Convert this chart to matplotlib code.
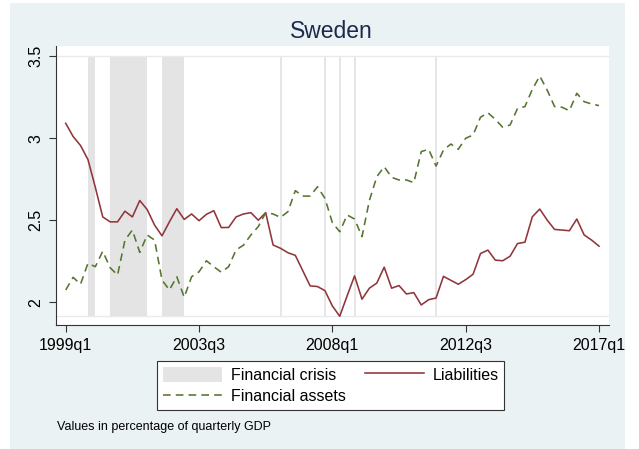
import matplotlib
matplotlib.use("Agg")
import matplotlib.pyplot as plt
from matplotlib.patches import Rectangle, Patch
from matplotlib.lines import Line2D
import numpy as np

plt.rcParams['font.family'] = ['Liberation Sans', 'DejaVu Sans']

# ---- data (quarter index 0 = 1999q1) ----
tick_pos = [0, 18, 36, 54, 72]
tick_labels = ["1999q1", "2003q3", "2008q1", "2012q3", "2017q1"]
ytick_vals = [2, 2.5, 3, 3.5]

liabilities = [3.09, 3.01, 2.955, 2.87, 2.70, 2.52, 2.49, 2.49, 2.555, 2.52,
               2.62, 2.565, 2.47, 2.405, 2.49, 2.57, 2.505, 2.538, 2.497, 2.536,
               2.558, 2.455, 2.456, 2.52, 2.538, 2.546, 2.50, 2.546, 2.349, 2.329,
               2.302, 2.286, 2.193, 2.10, 2.096, 2.071, 1.978, 1.915, 2.04, 2.161,
               2.019, 2.086, 2.117, 2.214, 2.086, 2.102, 2.051, 2.059, 1.984, 2.016,
               2.026, 2.158, 2.134, 2.11, 2.138, 2.171, 2.297, 2.318, 2.257, 2.253,
               2.281, 2.358, 2.366, 2.521, 2.568, 2.501, 2.444, 2.44, 2.436, 2.507,
               2.41, 2.379, 2.342]

assets = [2.075, 2.152, 2.11, 2.237, 2.217, 2.311, 2.211, 2.166, 2.379, 2.44,
          2.304, 2.41, 2.379, 2.136, 2.075, 2.156, 2.031, 2.156, 2.186, 2.253,
          2.217, 2.183, 2.217, 2.319, 2.348, 2.41, 2.461, 2.546, 2.538, 2.517,
          2.552, 2.68, 2.647, 2.647, 2.704, 2.633, 2.485, 2.43, 2.532, 2.507,
          2.40, 2.62, 2.765, 2.826, 2.761, 2.745, 2.745, 2.729, 2.918, 2.932,
          2.83, 2.927, 2.964, 2.932, 2.999, 3.019, 3.127, 3.155, 3.114, 3.066,
          3.08, 3.181, 3.192, 3.297, 3.378, 3.293, 3.192, 3.188, 3.167, 3.273,
          3.222, 3.208, 3.198]

crisis_quarters = [3, 6, 7, 8, 9, 10, 13, 14, 15]   # shaded quarters
crisis_marks = [29, 35, 37, 39, 50]                  # single-date crisis marks

quarters = np.arange(len(liabilities))

# ---- styling ----
bg = "#EAF2F3"
maroon = "#90353B"
green = "#55752F"
crisis_col = "#E4E4E4"
title_col = "#1C2A4E"

W, H = 639, 449
fig = plt.figure(figsize=(W / 100, H / 100), dpi=100, facecolor="white")
fig.patches.append(Rectangle((10 / W, 0), (625 - 10) / W, (449 - 3) / H,
                             transform=fig.transFigure, facecolor=bg,
                             edgecolor="none", zorder=-10))

ax = fig.add_axes([56 / W, (449 - 325.3) / H, (609 - 56) / W, (325.3 - 46) / H])
ax.set_facecolor("white")

ymin_data = min(liabilities)
ytop = 3.5
ax.set_ylim(1.860, 3.561)
ax.set_xlim(-1.31, 73.35)

# crisis shading
ax.bar(crisis_quarters, ytop - ymin_data, bottom=ymin_data, width=1, align='edge',
       color=crisis_col, edgecolor="none", zorder=1)
ax.vlines(crisis_marks, ymin_data, ytop, color=crisis_col, linewidth=1.3, zorder=1)
ax.hlines([ymin_data, ytop], -1.31, 73.35, color="#E6ECEE", linewidth=1.0, zorder=1)

ax.plot(quarters, liabilities, color=maroon, linewidth=1.15, zorder=3)
ax.plot(quarters, assets, color=green, linewidth=1.15, dashes=(4.8, 3.2), zorder=3)

for s in ["top", "right"]:
    ax.spines[s].set_visible(False)
for s in ["left", "bottom"]:
    ax.spines[s].set_color("#333333")
    ax.spines[s].set_linewidth(0.8)

ax.set_xticks(tick_pos)
ax.set_xticklabels(tick_labels, fontsize=11.5)
ax.set_yticks(ytick_vals)
ax.set_yticklabels(["2", "2.5", "3", "3.5"], fontsize=11.5, rotation=90, va="center")
ax.tick_params(axis="both", direction="out", length=5, width=0.8, color="#333333")
ax.tick_params(axis="x", pad=4)
ax.tick_params(axis="y", pad=4)

fig.text(331.5 / W, 1 - 31.5 / H, "Sweden", fontsize=16.5, color=title_col,
         ha="center", va="center")

handles = [Patch(facecolor=crisis_col, edgecolor="none"),
           Line2D([], [], color=maroon, linewidth=1.15),
           Line2D([], [], color=green, linewidth=1.15, dashes=(4.8, 3.2))]
labels = ["Financial crisis", "Liabilities", "Financial assets"]
# order so that row 1: crisis, liabilities; row 2: assets
leg = fig.legend([handles[0], handles[2], handles[1]],
                 [labels[0], labels[2], labels[1]],
                 ncol=2, loc="upper left",
                 bbox_to_anchor=(157.3 / W, 1 - 361 / H),
                 fontsize=11.5, frameon=True, fancybox=False,
                 edgecolor="#333333", facecolor="white", framealpha=1,
                 handlelength=3.7, handleheight=1.1, handletextpad=0.55,
                 columnspacing=1.2, labelspacing=0.35, borderpad=0.35,
                 borderaxespad=0)
leg.get_frame().set_linewidth(0.8)

fig.text(57 / W, 1 - 427 / H, "Values in percentage of quarterly GDP",
         fontsize=9, ha="left", va="center", color="black")

fig.savefig("out.png", dpi=100, facecolor="white")
